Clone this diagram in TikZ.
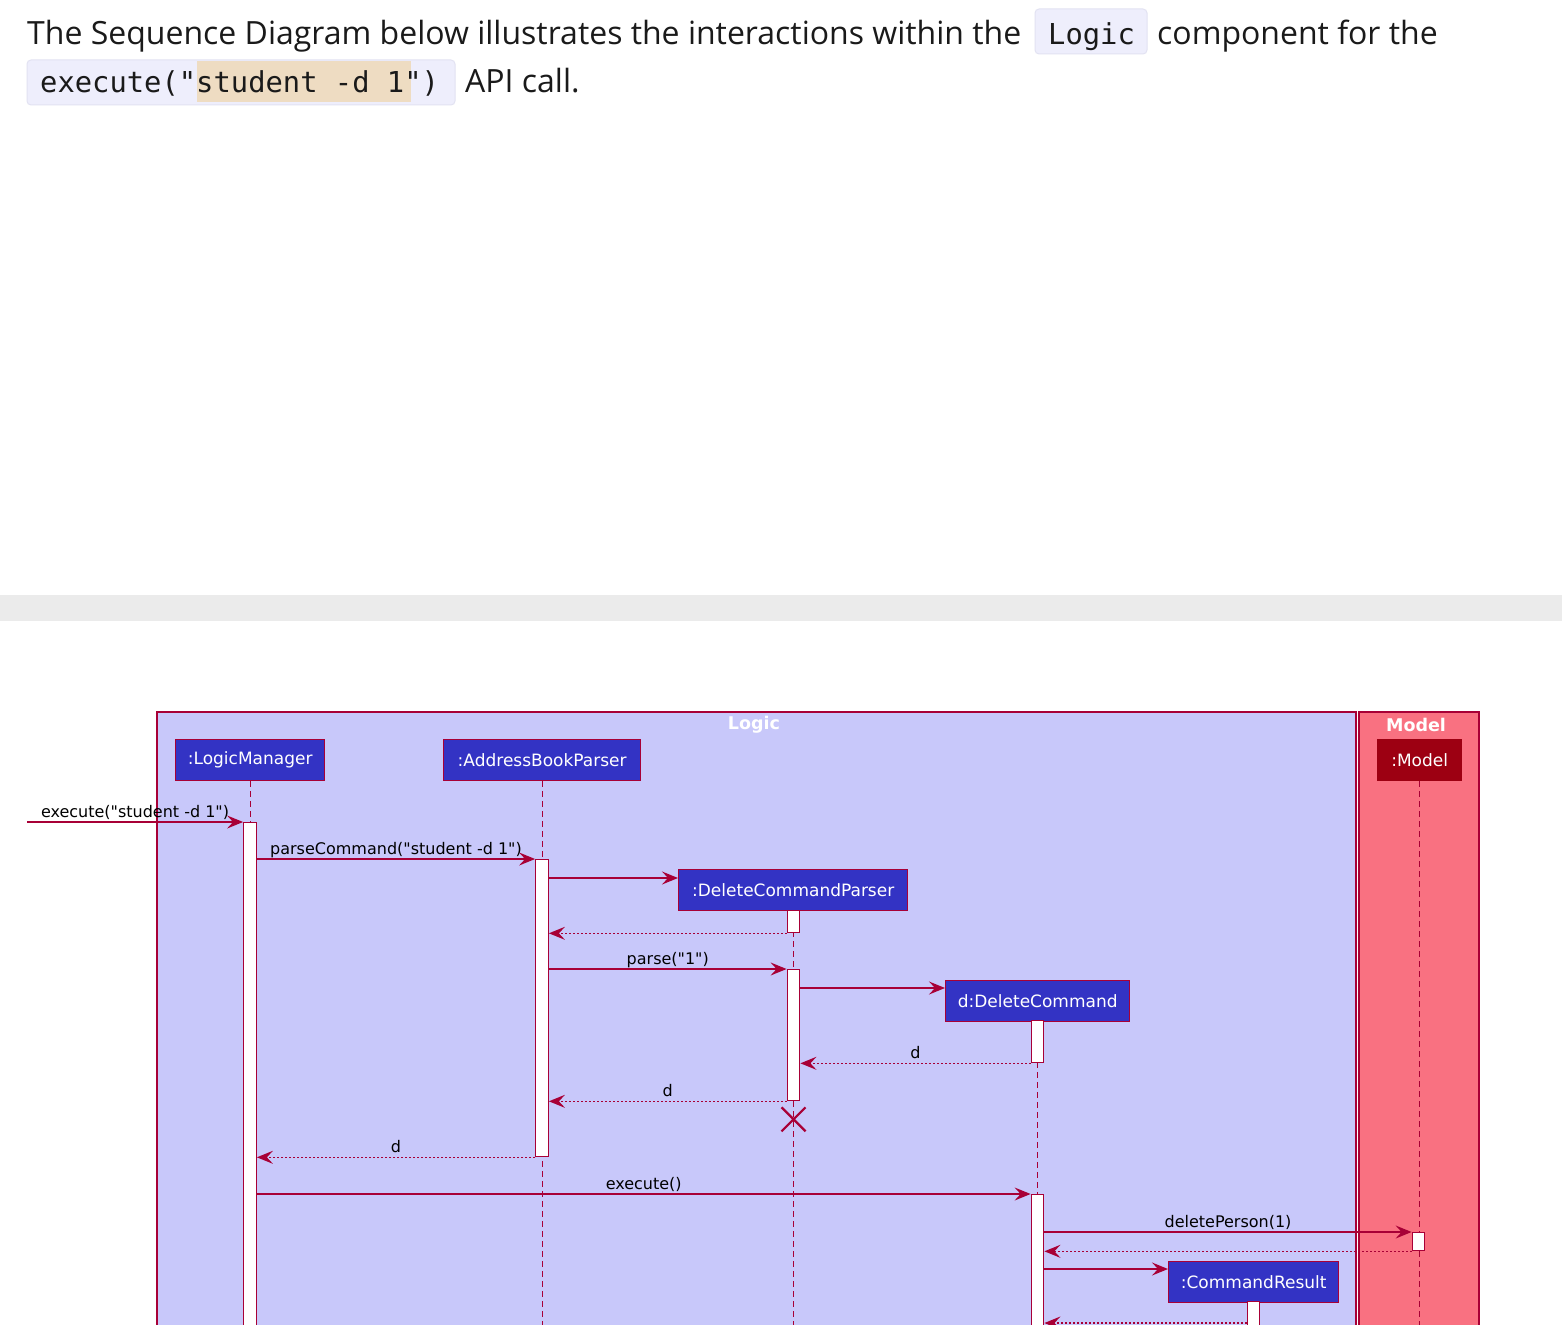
\documentclass[tikz,border=0pt]{standalone}
\usepackage{fontspec}
\setmainfont{Open Sans}
\newfontfamily\diagf{DejaVu Sans}
\newfontfamily\codef{DejaVu Sans Mono}
\usetikzlibrary{arrows.meta}
\definecolor{crim}{HTML}{A80036}
\definecolor{logicT}{HTML}{C8C8FA}
\definecolor{logicC}{HTML}{3333C4}
\definecolor{modelT}{HTML}{F97181}
\definecolor{modelC}{HTML}{9D0012}
\definecolor{codebg}{HTML}{EEEEFC}
\definecolor{codebd}{HTML}{E2E2F2}
\definecolor{hl}{HTML}{EEDCC2}
\definecolor{band}{HTML}{EBEBEB}
\definecolor{ink}{HTML}{1A1A1A}
\begin{document}
\begin{tikzpicture}[x=1pt,y=-1pt,
  titletext/.style={inner sep=0pt, anchor=base west, text=ink, font=\fontsize{32}{38}\selectfont},
  codetext/.style={inner sep=0pt, anchor=base west, text=ink, font=\codef\fontsize{28.8}{34}\selectfont},
  codebox/.style={fill=codebg, draw=codebd, line width=1pt, rounded corners=4pt},
  part/.style={draw=crim, line width=1.4pt, fill=logicC, text=white, inner sep=0pt,
    font=\diagf\fontsize{17}{20}\selectfont, minimum height=41pt, anchor=north west},
  bar/.style={draw=crim, fill=white, line width=1.3pt, minimum width=12.5pt, inner sep=0pt, anchor=north},
  lifeline/.style={draw=crim, line width=1.4pt, dash pattern=on 6pt off 4pt},
  msg/.style={draw=crim, line width=1.4pt, -{Stealth[length=16pt,width=13pt,inset=6pt]}},
  ret/.style={msg, dash pattern=on 2pt off 2pt},
  lbl/.style={inner sep=0pt, anchor=base, yshift=5pt, text=black, font=\diagf\fontsize{16}{19}\selectfont},
  frametitle/.style={inner sep=0pt, text=white, font=\diagf\bfseries\fontsize{17.5}{20}\selectfont}
]
\useasboundingbox (0,0) rectangle (1562,1324);
\clip (0,0) rectangle (1562,1324);
\fill[white] (0,0) rectangle (1562,1324);

% ---------- header text ----------
\node[titletext] (t1) at (27,45) {The Sequence Diagram below illustrates the interactions within the};
\path[codebox] (1035,9) rectangle (1147,54);
\node[codetext] (t2) at (1048,45) {Logic};
\node[titletext] (t3) at (1157,45) {component for the};
\path[codebox] (27,60) rectangle (455,105);
\fill[hl] (197,61) rectangle (411,102);
\node[codetext] (t4) at (40,93) {execute("student -d 1")};
\node[titletext] (t5) at (465,93) {API call.};

% ---------- separator band ----------
\fill[band] (0,595) rectangle (1562,621);

% ---------- frames ----------
\fill[logicT] (157,712) rectangle (1356,1340);
\draw[crim, line width=1.3pt] (157,1340) -- (157,712) -- (1356,712) -- (1356,1340);
\fill[modelT] (1359,712) rectangle (1479,1340);
\draw[crim, line width=1.3pt] (1359,1340) -- (1359,712) -- (1479,712) -- (1479,1340);
\node[frametitle] (logicT) at (754,725) {Logic};
\node[frametitle] (modelT) at (1416,725) {Model};

% ---------- participants ----------
\node[part, minimum width=149pt] (lm) at (175,739) {:LogicManager};
\node[part, minimum width=197pt] (abp) at (443,739) {:AddressBookParser};
\node[part, minimum width=84pt, fill=modelC, draw=modelC] (model) at (1377,739) {:Model};
\node[part, minimum width=229pt] (dcp) at (678,869) {:DeleteCommandParser};
\node[part, minimum width=184pt] (dc) at (945,980) {d:DeleteCommand};
\node[part, minimum width=170pt] (cr) at (1168,1261) {:CommandResult};

% ---------- lifelines ----------
\draw[lifeline] (lm.south) -- (lm.south |- 0,1340);
\draw[lifeline] (abp.south) -- (abp.south |- 0,1340);
\draw[lifeline] (dcp.south) -- (dcp.south |- 0,1340);
\draw[lifeline] (dc.south) -- (dc.south |- 0,1340);
\draw[lifeline] (model.south) -- (model.south |- 0,1340);
\draw[lifeline] (cr.south) -- (cr.south |- 0,1340);

% ---------- activation bars ----------
\node[bar, minimum height=520pt] (lmbar) at (250,822) {};
\node[bar, minimum height=297pt] (abpbar) at (542,859) {};
\node[bar, minimum height=22pt] (dcpbar1) at (793.5,910) {};
\node[bar, minimum height=131pt] (dcpbar2) at (793.5,969) {};
\node[bar, minimum height=42pt] (dcbar1) at (1037.5,1020) {};
\node[bar, minimum height=146pt] (dcbar2) at (1037.5,1194) {};
\node[bar, minimum height=18pt] (mbar) at (1418.5,1232) {};
\node[bar, minimum height=39pt] (crbar) at (1253.5,1301) {};

% ---------- messages ----------
\coordinate (in) at (27,822);
\draw[msg] (in) -- (lmbar.north west) node[lbl, midway] {execute("student -d 1")};
\draw[msg] (lmbar.east |- abpbar.north) -- (abpbar.north west) node[lbl, midway] {parseCommand("student -d 1")};
\coordinate (c1) at (0,878);
\draw[msg] (abpbar.east |- c1) -- (dcp.west |- c1);
\draw[ret] (dcpbar1.south west) -- (abpbar.east |- dcpbar1.south);
\draw[msg] (abpbar.east |- dcpbar2.north) -- (dcpbar2.north west) node[lbl, midway] {parse("1")};
\coordinate (c2) at (0,988);
\draw[msg] (dcpbar2.east |- c2) -- (dc.west |- c2);
\draw[ret] (dcbar1.south west) -- (dcpbar2.east |- dcbar1.south) node[lbl, midway] {d};
\draw[ret] (dcpbar2.south west) -- (abpbar.east |- dcpbar2.south) node[lbl, midway] {d};
\draw[crim, line width=2.2pt] ([xshift=-12pt,yshift=-6pt]dcpbar2.south) -- ([xshift=12pt,yshift=-30pt]dcpbar2.south)
  ([xshift=12pt,yshift=-6pt]dcpbar2.south) -- ([xshift=-12pt,yshift=-30pt]dcpbar2.south);
\draw[ret] (abpbar.south west) -- (lmbar.east |- abpbar.south) node[lbl, midway] {d};
\draw[msg] (lmbar.east |- dcbar2.north) -- (dcbar2.north west) node[lbl, midway] {execute()};
\draw[msg] (dcbar2.east |- mbar.north) -- (mbar.north west) node[lbl, midway] {deletePerson(1)};
\draw[ret] (mbar.south west) -- (dcbar2.east |- mbar.south);
\coordinate (c3) at (0,1269);
\draw[msg] (dcbar2.east |- c3) -- (cr.west |- c3);
\coordinate (c4) at (0,1323);
\draw[ret] (crbar.west |- c4) -- (dcbar2.east |- c4);
\end{tikzpicture}
\end{document}
